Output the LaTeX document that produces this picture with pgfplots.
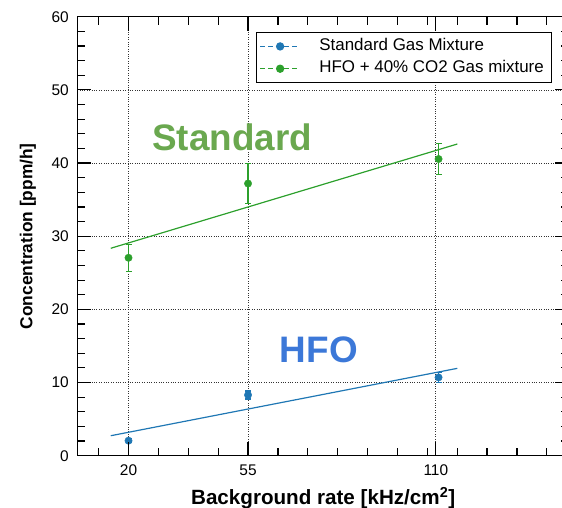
\documentclass[border=0pt]{standalone}
\usepackage{fontspec}
\setmainfont{Liberation Sans}
\usepackage{pgfplots}
\pgfplotsset{compat=1.18}
\definecolor{cblue}{HTML}{1F77B4}
\definecolor{cgreen}{HTML}{2CA02C}
\definecolor{tgreen}{HTML}{6AA84F}
\definecolor{tblue}{HTML}{3C78D8}
\begin{document}
\begin{tikzpicture}
\begin{axis}[
  at={(0,0)}, anchor=south west,
  scale only axis, width=491.7bp, height=439bp,
  xmin=5, xmax=149, ymin=0, ymax=60,
  xtick={20,55,110}, ytick={0,10,...,60},
  minor xtick={11.25,28.75,37.5,46.25,63.75,72.5,81.25,90,98.75,107.5,116.25,125,133.75,142.5},
  minor y tick num=4,
  tick align=inside,
  major tick length=14pt, minor tick length=8pt,
  tick style={draw=black, line width=1.2pt},
  axis line style={line width=1.6pt},
  xmajorgrids, ymajorgrids,
  major grid style={dotted, black!80, line width=0.7pt},
  tick label style={font=\fontsize{15.5}{18}\selectfont},
  /pgf/number format/assume math mode=true,
  xticklabel style={anchor=north, inner sep=0pt, yshift=-9bp},
  yticklabel style={anchor=east, inner sep=0pt, xshift=-8.3bp},
  xlabel={Background rate [kHz/cm\textsuperscript{2}]},
  ylabel={Concentration [ppm/h]},
  xlabel style={font=\fontsize{20.7}{24}\selectfont\bfseries, at={(axis description cs:0.5,-0.1116)}, anchor=base},
  ylabel style={font=\fontsize{17.4}{20}\selectfont\bfseries, at={(axis description cs:-0.0916,0.5)}, anchor=base, rotate=0},
  legend style={at={(axis description cs:0.3634,0.9651)}, anchor=north west,
    draw=black, line width=1.3pt, fill=white,
    font=\fontsize{17}{20}\selectfont,
    inner xsep=3bp, inner ysep=5.5bp, row sep=5.8bp, column sep=20.7bp,
    nodes={inner sep=0pt, text height=12.5bp, text depth=4bp}},
  legend cell align=left,
  legend image code/.code={
    \draw[#1, line width=1pt, dash pattern=on 5bp off 3bp] (0bp,0bp) -- (38bp,0bp);
    \fill[#1] (20bp,0bp) circle (3.5bp);
  },
]
\addplot[cgreen, line width=1.2pt, forget plot] coordinates {(14.8,28.35) (116.3,42.6)};
\addplot[cblue, line width=1.2pt, forget plot] coordinates {(14.8,2.73) (116.3,11.94)};
\addplot[cgreen, only marks, mark=*, mark size=3.7bp, forget plot,
  error bars/.cd, y dir=both, y explicit,
  error bar style={line width=1.2pt},
  error mark options={rotate=90, mark size=3bp, line width=1.2pt, cgreen}]
  coordinates {(20,27.05) +- (0,1.85) (55,37.2) +- (0,2.75) (110.8,40.55) +- (0,2.15)};
\addplot[cblue, only marks, mark=*, mark size=3.7bp, forget plot,
  error bars/.cd, y dir=both, y explicit,
  error bar style={line width=1.2pt},
  error mark options={rotate=90, mark size=3bp, line width=1.2pt, cblue}]
  coordinates {(20,2.05) +- (0,0.3) (55,8.3) +- (0,0.55) (110.8,10.7) +- (0,0.7)};
\addlegendimage{cblue}
\addlegendentry{Standard Gas Mixture}
\addlegendimage{cgreen}
\addlegendentry{HFO + 40\% CO2 Gas mixture\hspace*{4.6bp}}
\node[anchor=base west, text=tgreen, font=\fontsize{37}{40}\selectfont\bfseries, inner sep=0pt] at (axis cs:26.9,41.78) {Standard};
\node[anchor=base west, text=tblue, font=\fontsize{37}{40}\selectfont\bfseries, inner sep=0pt] at (axis cs:64.3,12.76) {HFO};
\end{axis}
\begin{scope}[line width=1.2pt, black]
\foreach \x in {20,55,110}{
  \draw ({(\x-5)*3.41458bp},0bp) -- ++(0bp,14bp);
  \draw ({(\x-5)*3.41458bp},439bp) -- ++(0bp,-14bp);
}
\foreach \x in {11.25,28.75,37.5,46.25,63.75,72.5,81.25,90,98.75,107.5,116.25,125,133.75,142.5}{
  \draw ({(\x-5)*3.41458bp},0bp) -- ++(0bp,8bp);
  \draw ({(\x-5)*3.41458bp},439bp) -- ++(0bp,-8bp);
}
\foreach \y in {0,10,...,60}{
  \draw (0bp,{\y*7.31667bp}) -- ++(14bp,0bp);
  \draw (491.7bp,{\y*7.31667bp}) -- ++(-14bp,0bp);
}
\foreach \y in {2,4,...,58}{
  \draw (0bp,{\y*7.31667bp}) -- ++(8bp,0bp);
  \draw (491.7bp,{\y*7.31667bp}) -- ++(-8bp,0bp);
}
\end{scope}
\pgfresetboundingbox
\path[use as bounding box] (-77.3bp,-52.3bp) rectangle (484.7bp,455.7bp);
\end{tikzpicture}
\end{document}
